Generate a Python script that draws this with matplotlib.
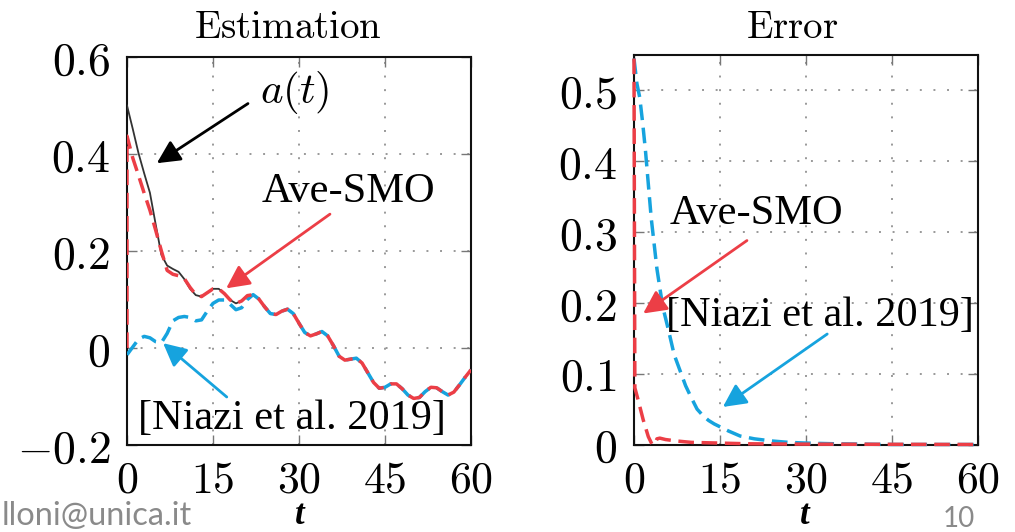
import numpy as np
import matplotlib
matplotlib.use("Agg")
import matplotlib.pyplot as plt

plt.rcParams['mathtext.fontset'] = 'cm'

# ---- data ----
t = np.arange(0, 61, 1)
a_t = [0.500, 0.452, 0.402, 0.360, 0.320, 0.255, 0.192, 0.170, 0.163, 0.157,
       0.142, 0.122, 0.109, 0.106, 0.114, 0.122, 0.122, 0.112, 0.099, 0.092,
       0.097, 0.108, 0.110, 0.101, 0.085, 0.071, 0.069, 0.076, 0.080, 0.071,
       0.051, 0.032, 0.025, 0.029, 0.034, 0.025, 0.005, -0.017, -0.025, -0.023,
       -0.021, -0.031, -0.051, -0.071, -0.083, -0.081, -0.074, -0.074, -0.084, -0.097,
       -0.104, -0.102, -0.090, -0.081, -0.082, -0.090, -0.097, -0.091, -0.076, -0.060,
       -0.045]

# Ave-SMO estimate: jump at t=0, then follows a(t) from t=13
smo_t_start = [0, 0, 1, 2, 3, 4, 5, 6, 7, 8, 9, 10, 11, 12]
smo_start = [0.0, 0.437, 0.392, 0.356, 0.319, 0.284, 0.243, 0.200, 0.160, 0.152,
             0.149, 0.143, 0.125, 0.110]

# Niazi estimate for t = 0..21, then follows a(t)
niazi_start = [-0.014, 0.002, 0.018, 0.024, 0.021, 0.013, 0.011, 0.030, 0.056, 0.063,
               0.065, 0.063, 0.056, 0.058, 0.076, 0.092, 0.099, 0.099, 0.090, 0.079,
               0.083, 0.100]

# errors
err_niazi_t = [0, 0.5, 1, 1.5, 2, 3, 4, 5, 6, 7, 8, 9, 10, 11, 12, 13, 14, 15,
               16.5, 18.5, 21, 24, 27, 30, 35, 45, 60]
err_niazi = [0.545, 0.51, 0.49, 0.455, 0.415, 0.32, 0.248, 0.195, 0.162, 0.127,
             0.105, 0.083, 0.066, 0.050, 0.041, 0.034, 0.029, 0.025,
             0.019, 0.012, 0.008, 0.005, 0.003, 0.002, 0.001, 0.0, 0.0]
err_smo_t = [0, 0.15, 0.75, 1.6, 2.5, 3.1, 3.6, 4.0, 4.5, 5.5, 7.4, 10, 15, 20, 30, 60]
err_smo = [0.545, 0.08, 0.062, 0.035, 0.011, 0.001, 0.0, 0.008, 0.009, 0.007,
           0.005, 0.003, 0.002, 0.001, 0.0005, 0.0]

xticks = [0, 15, 30, 45, 60]
yticks_est = [-0.2, 0, 0.2, 0.4, 0.6]
yticks_err = [0, 0.1, 0.2, 0.3, 0.4, 0.5]

RED = '#EC3E46'
BLUE = '#16A3DE'

ave_smo_t = np.concatenate([smo_t_start, t[13:]])
ave_smo = np.concatenate([smo_start, a_t[13:]])
niazi = np.concatenate([niazi_start, a_t[22:]])

W, H = 1015, 532
fig = plt.figure(figsize=(W / 100, H / 100), dpi=100)

def px_axes(x0, y0, x1, y1):
    return fig.add_axes([x0 / W, 1 - y1 / H, (x1 - x0) / W, (y1 - y0) / H])

ax1 = px_axes(127, 57, 471, 445)
ax2 = px_axes(634, 55, 978, 444.5)

def mlab(v):
    return '$' + f'{v:g}' + '$'

for ax, yt, ylim in [(ax1, yticks_est, (-0.2, 0.6)), (ax2, yticks_err, (0, 0.55))]:
    ax.set_xlim(0, 60)
    ax.set_ylim(*ylim)
    ax.set_xticks(xticks, labels=[mlab(v) for v in xticks])
    ax.set_yticks(yt, labels=[mlab(v) for v in yt])
    ax.tick_params(direction='in', length=7, width=1, color='#777777',
                   top=True, right=True)
    ax.tick_params(axis='y', pad=12, labelsize=33)
    ax.tick_params(axis='x', pad=10, labelsize=31.5)
    ax.grid(True, linestyle=(0, (1, 6)), linewidth=1.4, color='#999999')
    for sp in ax.spines.values():
        sp.set_linewidth(1.5)
        sp.set_color('#111111')

dash = (0, (4.5, 2.2))

# Estimation
ax1.plot(t, a_t, color='#333333', lw=1.3, zorder=3)
ax1.plot(t, niazi, color=BLUE, lw=2.5, linestyle=dash, zorder=4)
ax1.plot(ave_smo_t, ave_smo, color=RED, lw=2.5, linestyle=dash, zorder=5)

# Error
ax2.plot(err_niazi_t, err_niazi, color=BLUE, lw=2.5, linestyle=dash, zorder=4, clip_on=False)
ax2.plot(err_smo_t, err_smo, color=RED, lw=2.5, linestyle=dash, zorder=5, clip_on=False)

arrow = dict(arrowstyle='-|>,head_length=0.7,head_width=0.35', mutation_scale=20,
             lw=2.0, shrinkA=0, shrinkB=0)

def arr(ax, tail, head, color):
    ax.annotate('', xy=head, xytext=tail, annotation_clip=False,
                arrowprops=dict(arrow, color=color), zorder=6)

serif = 'Liberation Serif'

# left annotations
ax1.text(29.2, 0.526, r'$a(t)$', fontsize=31, ha='center', va='center')
arr(ax1, (21.1, 0.504), (5.2, 0.381), 'black')
ax1.text(23.5, 0.301, 'Ave-SMO', fontsize=30.5, family=serif, va='baseline')
arr(ax1, (35.4, 0.276), (17.3, 0.123), RED)
ax1.text(2.0, -0.167, '[Niazi et al. 2019]', fontsize=30.5, family=serif, va='baseline')
arr(ax1, (17.4, -0.101), (6.3, 0.010), BLUE)

# right annotations
ax2.text(6.28, 0.312, 'Ave-SMO', fontsize=30.5, family=serif, va='baseline')
arr(ax2, (19.7, 0.288), (1.6, 0.185), RED)
ax2.text(5.6, 0.168, '[Niazi et al. 2019]', fontsize=30.5, family=serif, va='baseline')
arr(ax2, (33.7, 0.156), (15.5, 0.053), BLUE)

# titles and labels (pixel positions)
def ftext(x, y, s, **kw):
    fig.text(x / W, 1 - y / H, s, **kw)

ftext(288, 38, r'$\mathrm{Estimation}$', fontsize=28, ha='center', va='baseline')
ftext(792, 38, r'$\mathrm{Error}$', fontsize=28, ha='center', va='baseline')
ftext(300, 524, 't', fontsize=25, family=serif, style='italic', weight='bold',
      ha='center', va='baseline')
ftext(805, 524, 't', fontsize=25, family=serif, style='italic', weight='bold',
      ha='center', va='baseline')
ftext(2, 525, 'lloni@unica.it', fontsize=23.5, family='Lato', color='#8A8A8A',
      ha='left', va='baseline')
ftext(959, 527, '10', fontsize=20, family='Lato', color='#8A8A8A',
      ha='center', va='baseline')

fig.savefig('out.png', dpi=100)
